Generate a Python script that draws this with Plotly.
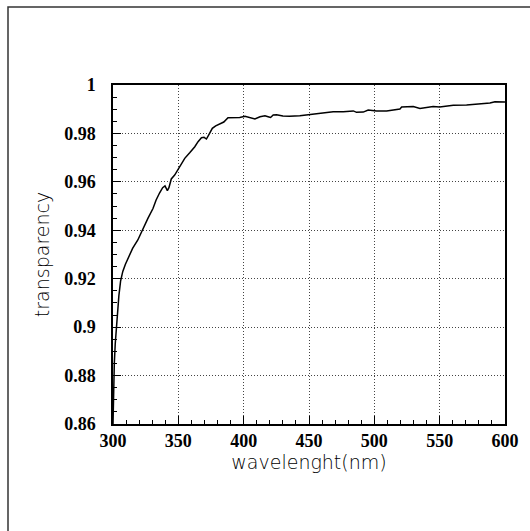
import plotly.graph_objects as go

wavelength = [300.0, 300.5, 301.0, 301.7, 302.5, 303.5, 304.5, 305.8, 307.5, 309.5,
              312.0, 315.0, 319.0, 323.0, 326.8, 330.6, 333.0, 335.7, 338.0, 339.8,
              341.6, 342.8, 344.6, 347.2, 349.8, 352.3, 354.9, 358.7, 362.6, 365.1,
              367.7, 369.7, 371.5, 373.5, 376.0, 378.6, 381.7, 384.8, 388.0, 392.0,
              397.0, 401.0, 404.3, 408.6, 412.5, 416.3, 418.7, 420.6, 422.6, 425.2,
              430.0, 435.1, 443.0, 450.6, 458.3, 468.5, 476.2, 483.9, 486.4, 491.5,
              495.3, 501.7, 509.4, 515.7, 519.6, 520.9, 527.3, 529.8, 534.9, 542.6,
              545.0, 550.0, 555.3, 560.4, 570.6, 578.3, 586.0, 588.5, 592.3, 596.2,
              600.0]
transparency = [0.860, 0.875, 0.885, 0.893, 0.900, 0.907, 0.913, 0.919, 0.923, 0.926,
                0.929, 0.9325, 0.936, 0.941, 0.945, 0.949, 0.9525, 0.9555, 0.9576, 0.9583,
                0.9564, 0.9576, 0.9612, 0.9628, 0.9652, 0.9674, 0.9697, 0.972, 0.9745, 0.9766,
                0.9782, 0.9784, 0.9777, 0.9796, 0.9821, 0.9831, 0.9839, 0.9847, 0.9865, 0.9866,
                0.9866, 0.9871, 0.9866, 0.9860, 0.9869, 0.9873, 0.9869, 0.9866, 0.9876, 0.9877,
                0.9872, 0.9871, 0.9873, 0.9879, 0.9884, 0.9890, 0.9890, 0.9893, 0.9887, 0.9888,
                0.9897, 0.9893, 0.9893, 0.9897, 0.9901, 0.9909, 0.9909, 0.9911, 0.9903, 0.9908,
                0.9911, 0.9909, 0.9913, 0.9916, 0.9917, 0.9920, 0.9922, 0.9926, 0.9931, 0.9930,
                0.9930]

x_ticks = [300, 350, 400, 450, 500, 550, 600]
x_labels = ["300", "350", "400", "450", "500", "550", "600"]
y_ticks = [0.86, 0.88, 0.90, 0.92, 0.94, 0.96, 0.98, 1.0]
y_labels = ["0.86", "0.88", "0.9", "0.92", "0.94", "0.96", "0.98", "1"]

W, H = 530, 531
ML, MR, MT, MB = 113, 25, 85, 107
PW, PH = W - ML - MR, H - MT - MB

fig = go.Figure()
fig.add_trace(go.Scatter(x=wavelength, y=transparency, mode="lines",
                         line=dict(color="black", width=1.5), showlegend=False))

tickfont = dict(family="Liberation Serif", size=18, color="black", weight="bold")
titlefont = dict(family="DejaVu Sans", size=19, color="black", weight=300)

fig.update_layout(
    width=W, height=H,
    margin=dict(l=ML, r=MR, t=MT, b=MB),
    paper_bgcolor="white", plot_bgcolor="white",
    xaxis=dict(range=[300, 600], tickvals=x_ticks, ticktext=x_labels,
               ticks="inside", ticklen=8, tickwidth=1, tickcolor="black",
               minor=dict(dtick=10, tick0=300, ticks="inside", ticklen=4,
                          tickcolor="black", showgrid=False),
               showgrid=True, gridcolor="#444", griddash="1px,2px", gridwidth=1,
               showline=True, linecolor="black", linewidth=1.5, mirror=True,
               tickfont=tickfont, zeroline=False,
               title=dict(text="wavelenght(nm)", font=titlefont, standoff=0)),
    yaxis=dict(range=[0.86, 1.0], tickvals=y_ticks, ticktext=y_labels,
               ticks="inside", ticklen=8, tickwidth=1, tickcolor="black",
               minor=dict(dtick=0.005, tick0=0.86, ticks="inside", ticklen=4,
                          tickcolor="black", showgrid=False),
               showgrid=True, gridcolor="#444", griddash="1px,2px", gridwidth=1,
               showline=True, linecolor="black", linewidth=1.5, mirror=True,
               tickfont=tickfont, zeroline=False, ticklabelstandoff=12,
               title=dict(text="transparency", font=titlefont, standoff=10)),
)

# outer canvas frame (left and top edges visible)
def px_x(px):
    return (px - ML) / PW

def px_y(py):
    return (H - MB - py) / PH

fig.add_shape(type="rect", xref="paper", yref="paper",
              x0=px_x(8), x1=px_x(540), y0=px_y(545), y1=px_y(7),
              line=dict(color="#333", width=1.5), layer="below")

fig.write_html("out.html")
